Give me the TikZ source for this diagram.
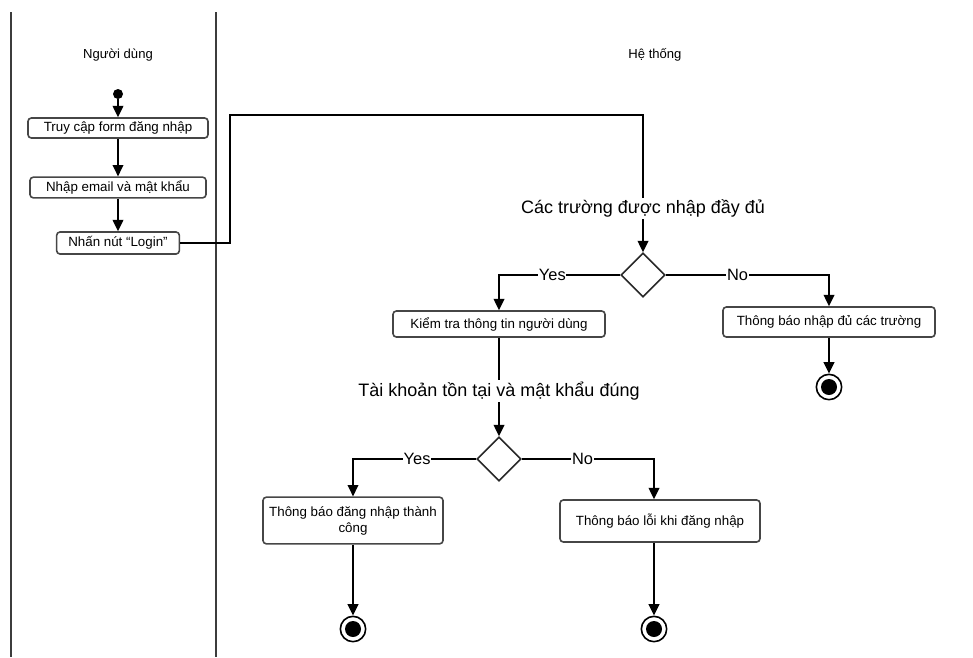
\documentclass[tikz,border=0pt]{standalone}
\usepackage{fontspec}
\setmainfont{Liberation Sans}
\usetikzlibrary{arrows.meta,shapes.geometric}

\tikzset{
  lane/.style={draw={rgb,255:red,60;green,60;blue,60},line width=1.3pt},
  act/.style={draw={rgb,255:red,70;green,70;blue,70},line width=1.2pt,rounded corners=2.5pt,fill=white,font=\fontsize{10}{12}\selectfont,align=center,inner sep=0pt},
  decide/.style={diamond,draw={rgb,255:red,40;green,40;blue,40},line width=1.2pt,minimum width=33pt,minimum height=33pt,inner sep=0pt},
  flow/.style={draw=black,line width=1.2pt,-{Triangle[length=8.5pt,width=8pt]}},
  guard/.style={fill=white,inner sep=0.5pt,font=\fontsize{12.3}{14}\selectfont},
  cond/.style={fill=white,inner sep=1.5pt,font=\fontsize{13.5}{16}\selectfont},
  lanetitle/.style={font=\fontsize{9.8}{12}\selectfont},
  finish/.style={circle,draw,line width=1.2pt,minimum size=19pt,inner sep=0pt}
}

\begin{document}
\begin{tikzpicture}[x=0.75pt,y=0.75pt,yscale=-1,xscale=1]
\useasboundingbox (0,0) rectangle (973,657);
% swimlanes
\draw [lane] (11,12) -- (11,657);
\draw [lane] (216,12) -- (216,657);
\node [lanetitle] (userlane) at (118,55) {Người dùng};
\node [lanetitle] (syslane) at (655,55) {Hệ thống};
% user side
\node [circle,fill=black,minimum size=7.5pt,inner sep=0pt] (start) at (118,94) {};
\node [act,minimum width=135pt,minimum height=15pt] (openform) at (118,128) {Truy cập form đăng nhập};
\node [act,minimum width=132pt,minimum height=15.5pt] (enter) at (118,187.5) {Nhập email và mật khẩu};
\node [act,minimum width=92pt,minimum height=16.5pt] (login) at (118,243) {Nhấn nút “Login”};
\draw [flow] (start) -- (openform);
\draw [flow] (openform) -- (enter);
\draw [flow] (enter) -- (login);
% system side
\coordinate (bend) at (230,115);
\node [decide] (full) at (643,275) {};
\node [act,minimum width=159pt,minimum height=19.5pt] (check) at (499,324) {Kiểm tra thông tin người dùng};
\node [act,minimum width=159pt,minimum height=22.5pt] (missing) at (829,322) {Thông báo nhập đủ các trường};
\node [finish] (end1) at (829,387) {};
\fill (end1) circle (8);
\draw [flow] (login.east) -| (bend) -| node [cond,pos=0.84] {Các trường được nhập đầy đủ} (full.north);
\draw [flow] (full.west) -| node [guard,pos=0.28] {Yes} (check.north);
\draw [flow] (full.east) -| node [guard,pos=0.22] {No} (missing.north);
\draw [flow] (missing) -- (end1);
\node [decide] (valid) at (499,459) {};
\node [act,minimum width=135pt,minimum height=35pt] (success) at (353,520.5) {Thông báo đăng nhập thành\\công};
\node [act,minimum width=150pt,minimum height=31.5pt] (failed) at (660,521) {Thông báo lỗi khi đăng nhập};
\node [finish] (end2) at (353,629) {};
\fill (end2) circle (8);
\node [finish] (end3) at (654,629) {};
\fill (end3) circle (8);
\draw [flow] (check) -- node [cond,pos=0.54] {Tài khoản tồn tại và mật khẩu đúng} (valid);
\draw [flow] (valid.west) -| node [guard,pos=0.24] {Yes} (success.north);
\draw [flow] (valid.east) -| node [guard,pos=0.23] {No} (failed.north -| end3);
\draw [flow] (success) -- (end2);
\draw [flow] (failed.south -| end3) -- (end3);
\end{tikzpicture}
\end{document}
